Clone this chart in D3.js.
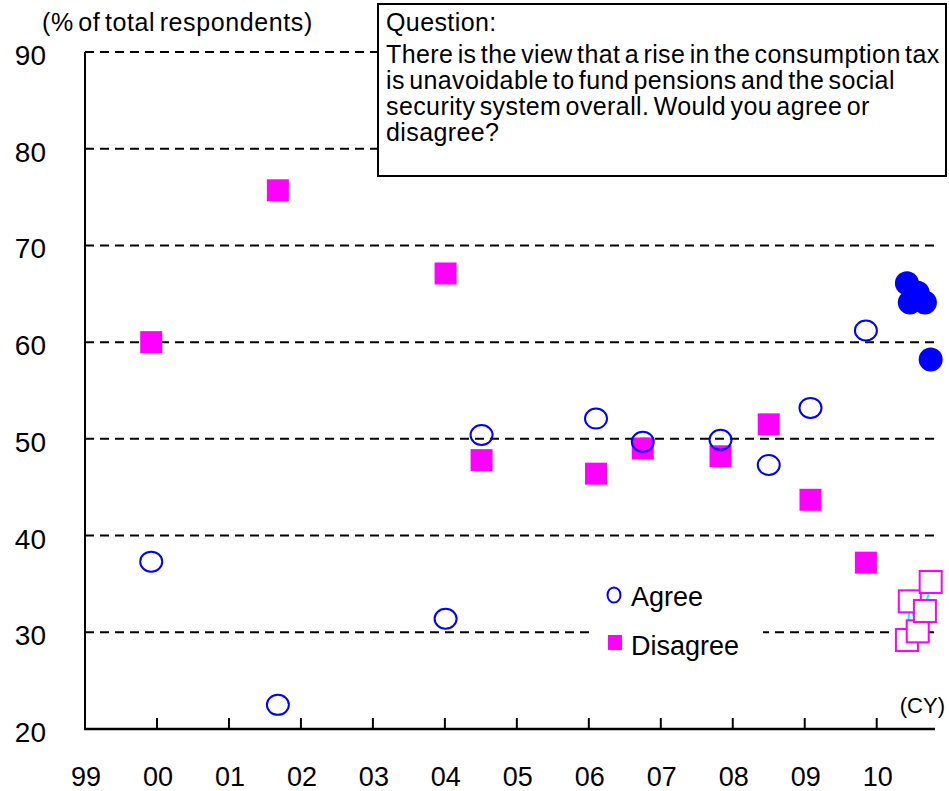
<!DOCTYPE html>
<html>
<head>
<meta charset="utf-8">
<script src="https://cdn.jsdelivr.net/npm/d3@7"></script>
<style>
  body { margin: 0; background: #fff; }
  text { font-family: "Liberation Sans", Arial, sans-serif; fill: #000; }
</style>
</head>
<body>
<div class="chart"></div>
<script>
// survey dates as decimal years
var surveyYears = [1999.92, 2001.68, 2004.01, 2004.51, 2006.1, 2006.75, 2007.83, 2008.5, 2009.08, 2009.85];
var agree = [37.3, 22.5, 31.4, 50.4, 52.1, 49.7, 49.9, 47.3, 53.2, 61.2];
var disagree = [60.0, 75.7, 67.1, 47.8, 46.4, 49.0, 48.2, 51.5, 43.7, 37.2];

// 2010 monthly polls
var years2010 = [2010.42, 2010.46, 2010.57, 2010.67, 2010.75];
var agree2010 = [66.1, 64.1, 65.1, 64.1, 58.2];
var disagree2010 = [29.2, 33.2, 30.1, 32.2, 35.2];

var yTicks = [20, 30, 40, 50, 60, 70, 80, 90];
var xTicks = [1999, 2000, 2001, 2002, 2003, 2004, 2005, 2006, 2007, 2008, 2009, 2010];
var xTickLabels = ["99", "00", "01", "02", "03", "04", "05", "06", "07", "08", "09", "10"];

var questionLines = [
  "Question:",
  "There is the view that a rise in the consumption tax",
  "is unavoidable to fund pensions and the social",
  "security system overall. Would you agree or",
  "disagree?"
];

var svg = d3.select(".chart")
    .append("svg")
    .attr("width", 949)
    .attr("height", 791)

var x = d3.scaleLinear().domain([1999, 2010.81]).range([85, 935]);
var y = d3.scaleLinear().domain([20, 90]).range([729, 52]);

// dashed grid
svg.selectAll(".grid")
    .data(yTicks.filter(function (d) { return d > 20; }))
    .enter().append("line")
    .attr("x1", x(1999))
    .attr("x2", x.range()[1])
    .attr("y1", function (d) { return y(d); })
    .attr("y2", function (d) { return y(d); })
    .attr("stroke", "#000")
    .attr("stroke-width", 2)
    .attr("stroke-dasharray", "9,6")

// question box
svg.append("rect")
    .attr("x", 378)
    .attr("y", 4)
    .attr("width", 568)
    .attr("height", 172)
    .attr("fill", "#fff")
    .attr("stroke", "#000")
    .attr("stroke-width", 2)

var qy = [31, 63, 89, 115, 141];
svg.selectAll(".q")
    .data(questionLines)
    .enter().append("text")
    .attr("x", 386)
    .attr("y", function (d, i) { return qy[i]; })
    .text(function (d) { return d; })
    .style("font-size", "25px")
    .style("word-spacing", "-3px")
    .style("letter-spacing", "0.4px")

// legend background hides grid line
svg.append("rect")
    .attr("x", 595)
    .attr("y", 575)
    .attr("width", 168)
    .attr("height", 92)
    .attr("fill", "#fff")

// axes
svg.append("line")
    .attr("x1", x(1999)).attr("x2", x(1999))
    .attr("y1", y(90)).attr("y2", y(20))
    .attr("stroke", "#000").attr("stroke-width", 2)

svg.append("line")
    .attr("x1", x(1999) - 1).attr("x2", x.range()[1])
    .attr("y1", y(20)).attr("y2", y(20))
    .attr("stroke", "#000").attr("stroke-width", 2.5)

svg.selectAll(".xtick")
    .data(xTicks.slice(1))
    .enter().append("line")
    .attr("x1", function (d) { return x(d); })
    .attr("x2", function (d) { return x(d); })
    .attr("y1", y(20))
    .attr("y2", y(20) - 11)
    .attr("stroke", "#000")
    .attr("stroke-width", 2)

svg.selectAll(".xlab")
    .data(xTicks)
    .enter().append("text")
    .attr("x", function (d) { return x(d) + 1; })
    .attr("y", 786)
    .attr("text-anchor", "middle")
    .text(function (d, i) { return xTickLabels[i]; })
    .style("font-size", "27px")

svg.selectAll(".ylab")
    .data(yTicks)
    .enter().append("text")
    .attr("x", 46)
    .attr("y", function (d) { return y(d) + 13; })
    .attr("text-anchor", "end")
    .text(function (d) { return d; })
    .style("font-size", "28px")

svg.append("text")
    .attr("x", 42)
    .attr("y", 31)
    .text("(% of total respondents)")
    .style("font-size", "25px")
    .style("word-spacing", "-3px")
    .style("letter-spacing", "0.6px")

svg.append("text")
    .attr("x", 945)
    .attr("y", 713)
    .attr("text-anchor", "end")
    .text("(CY)")
    .style("font-size", "22px")

// disagree: filled magenta squares
svg.selectAll(".dis")
    .data(surveyYears)
    .enter().append("rect")
    .attr("x", function (d) { return x(d) - 11; })
    .attr("y", function (d, i) { return y(disagree[i]) - 11; })
    .attr("width", 22)
    .attr("height", 22)
    .attr("fill", "#ff00ff")

// agree: open blue circles
svg.selectAll(".agr")
    .data(surveyYears)
    .enter().append("ellipse")
    .attr("cx", function (d) { return x(d); })
    .attr("cy", function (d, i) { return y(agree[i]); })
    .attr("rx", 11)
    .attr("ry", 10)
    .attr("fill", "none")
    .attr("stroke", "#0000ff")
    .attr("stroke-width", 2)

// 2010 disagree: cyan link + open squares
var line2010 = d3.line()
    .x(function (d) { return x(d); })
    .y(function (d, i) { return y(disagree2010[i]); });

svg.append("path")
    .attr("d", line2010(years2010))
    .attr("fill", "none")
    .attr("stroke", "#00ffff")
    .attr("stroke-width", 2)

svg.selectAll(".dis10")
    .data(years2010)
    .enter().append("rect")
    .attr("x", function (d) { return x(d) - 11; })
    .attr("y", function (d, i) { return y(disagree2010[i]) - 11; })
    .attr("width", 22)
    .attr("height", 22)
    .attr("fill", "#fff")
    .attr("stroke", "#ff00ff")
    .attr("stroke-width", 2)

// 2010 agree: filled blue circles
svg.selectAll(".agr10")
    .data(years2010)
    .enter().append("circle")
    .attr("cx", function (d) { return x(d); })
    .attr("cy", function (d, i) { return y(agree2010[i]); })
    .attr("r", 12)
    .attr("fill", "#0000ff")

// legend
svg.append("ellipse")
    .attr("cx", 614).attr("cy", 595)
    .attr("rx", 6.5).attr("ry", 7.5)
    .attr("fill", "none")
    .attr("stroke", "#0000ff")
    .attr("stroke-width", 2)

svg.append("text")
    .attr("x", 631).attr("y", 606)
    .text("Agree")
    .style("font-size", "27px")

svg.append("rect")
    .attr("x", 608).attr("y", 635)
    .attr("width", 14).attr("height", 15)
    .attr("fill", "#ff00ff")

svg.append("text")
    .attr("x", 631).attr("y", 655)
    .text("Disagree")
    .style("font-size", "27px")
</script>
</body>
</html>
